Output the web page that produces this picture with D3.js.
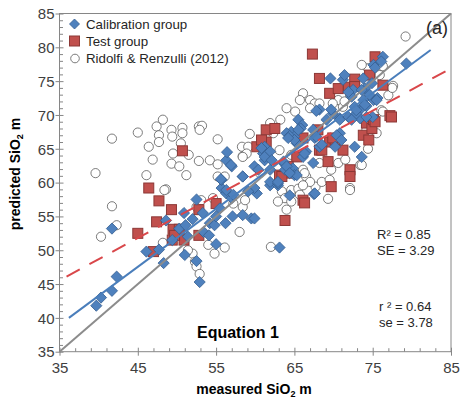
<!DOCTYPE html>
<html><head><meta charset="utf-8">
<script src="https://cdn.jsdelivr.net/npm/d3@7"></script>
<style>body{margin:0;background:#fff}svg{display:block;font-family:"Liberation Sans",Arial,sans-serif}</style>
</head><body><svg id="c" width="460" height="403"></svg>
<script>
const xTicks=[35,45,55,65,75,85];
const yTicks=[35,40,45,50,55,60,65,70,75,80,85];
const legendLabels=["Calibration group","Test group","Ridolfi & Renzulli (2012)"];
const statsCal=["R² = 0.85","SE = 3.29"];
const statsRid=["r ² = 0.64","se = 3.78"];

const calibration=[
[39.7,41.8],[40.3,43.0],[41.7,44.0],[42.3,46.1],[41.7,53.2],[46.1,49.8],[47.7,50.1],[48.3,48.1],[48.6,54.4],[49.4,51.5],[50.3,53.2],[51.0,49.3],[51.1,53.7],[51.4,52.0],[50.9,55.5],[52.0,54.6],[52.5,48.4],[52.9,45.3],[53.3,55.5],[53.4,52.7],[54.1,52.2],[54.2,54.0],[54.8,53.7],[55.0,50.9],[56.2,54.0],[55.5,56.2],[57.1,55.0],[52.5,57.5],
[55.0,55.0],[58.4,55.2],[59.5,54.7],[55.7,59.2],[56.3,58.4],[57.0,57.7],
[63.1,50.4],[67.5,58.3],[64.4,58.1],[59.9,54.7],[61.9,59.6],[62.9,59.6],[60.2,58.4],
[76.3,78.6],[76.1,77.9],[79.3,77.6],[69.6,75.4],[71.2,75.2],[71.4,75.9],[73.8,75.4],[74.9,74.7],[74.0,73.9],[75.1,77.4],[72.5,73.7],[75.1,72.2],[75.6,72.5],[73.8,72.2],[73.4,70.8],[72.3,72.7],[72.7,71.2],[74.2,71.3],[75.0,69.7],[68.2,70.8],[67.8,70.6],[69.1,69.3],[69.9,70.2],[70.8,69.5],[71.9,69.7],[72.9,70.0],[73.4,69.5],[74.2,69.7],[65.5,69.3],[66.0,68.5],[64.6,67.5],[65.8,68.0],[64.0,67.3],[65.0,66.8],[67.4,67.8],[67.6,66.6],[65.3,65.8],[68.2,65.3],[66.5,64.6],[66.1,63.8],[61.2,65.3],[61.0,64.3],[61.9,64.6],[61.2,63.3],[61.9,61.9],[59.9,62.4],[63.6,62.9],[63.8,61.9],[64.8,62.1],[65.0,61.1],[61.9,60.1],[62.9,59.9],[59.9,59.2],[59.1,58.7],[58.4,60.9],[57.0,62.4],[56.3,63.3],[57.2,58.2],[67.6,58.4],[70.2,65.3],[70.8,67.3],[72.7,65.3],[73.6,63.8],[72.9,70.2],
[75.5,72.2],[73.6,73.7],[74.6,73.0],[74.0,71.5],[72.9,70.7],[75.3,77.0],
[71.9,73.4],[69.7,70.8],[64.4,66.9],[65.5,67.8],[65.0,66.3],[64.2,66.6],[60.8,65.1],[61.2,63.8],[62.1,63.3],[60.4,61.9],[63.6,63.1],[66.3,64.3],[67.8,66.8],[68.5,65.6],[70.4,67.0],[70.8,69.3],[72.3,69.3],[71.0,66.3],[67.4,62.9],[64.0,62.4],[65.3,61.1],[64.4,61.4],[62.9,60.1],
[55.7,60.4],[58.4,60.9],[56.4,64.5],[56.9,62.6],[55.6,60.5],[56.3,58.9]
];

const test=[
[45.0,52.5],[47.4,54.2],[47.7,57.3],[49.3,56.0],[47.0,49.8],[49.4,51.5],[49.5,53.1],[50.3,53.1],[50.9,51.5],[52.8,56.0],[52.8,52.2],[55.0,56.9],[46.4,59.2],[50.7,64.7],[49.7,52.2],
[67.3,79.0],[68.2,75.4],[69.5,73.2],[70.6,73.9],[71.9,74.1],[72.7,75.3],[74.6,75.9],[75.3,78.6],[76.3,74.4],[77.2,69.9],[77.4,69.7],[61.4,67.8],[62.5,68.0],[60.2,65.3],[61.4,66.0],[69.5,66.0],[70.2,66.3],[71.2,64.8],[73.8,67.0],[74.5,66.3],[74.2,68.8],[74.9,68.0],[75.1,69.3],[68.2,64.8],[72.1,61.9],[72.1,60.9],[69.3,63.1],[65.3,63.8],[64.2,62.4],[64.4,61.4],[63.1,61.1],[69.7,59.4],[66.1,57.4],[63.8,54.4],[66.3,57.0],
[60.8,66.3],[66.1,66.6],[68.0,67.8],[69.9,66.6],[68.5,64.8],[63.4,60.9],[75.3,69.0],[72.7,74.2]
];

const ridolfi=[
[39.6,61.4],[41.7,66.5],[45.0,67.4],[46.4,65.3],[46.9,63.4],[47.4,68.3],[47.7,67.0],[48.2,69.3],[47.7,66.0],[49.3,67.8],[49.4,66.8],[50.7,68.1],[50.7,67.3],[50.5,65.8],[49.5,64.3],[49.3,62.8],[50.3,62.4],[51.2,61.1],[52.8,68.3],[53.2,68.4],[52.8,63.2],[54.2,63.3],[55.2,66.4],[46.1,61.1],[48.6,59.0],[55.2,62.7],[51.5,64.1],[52.9,67.8],
[59.3,67.2],[58.3,65.3],[58.4,63.9],[55.2,60.9],[56.1,60.9],
[40.3,52.0],[42.3,53.7],[41.7,56.5],[48.2,51.1],[52.0,49.5],[52.3,48.3],[52.5,47.6],[52.9,46.5],[54.0,50.8],[54.8,49.5],[56.1,50.4],[52.5,56.4],[58.0,52.7],[57.2,56.9],
[48.4,58.9],[53.1,57.4],[54.6,57.7],[58.4,56.4],[51.4,50.0],
[62.0,50.5],[64.0,56.0],[69.3,57.6],[72.1,59.2],[63.4,58.7],[64.6,58.9],[63.8,57.7],[62.9,57.2],[65.5,59.1],[67.7,59.4],[64.6,57.2],
[79.2,81.6],[76.3,77.2],[74.4,76.9],[66.1,73.2],[77.6,74.3],[64.0,71.0],[67.0,72.2],[67.6,71.7],[68.2,71.7],[70.6,72.2],[69.9,71.7],[71.2,71.2],[76.1,70.7],[61.9,68.8],[62.3,67.3],[59.1,65.3],[58.9,64.3],[58.4,63.8],[60.6,61.4],[66.1,61.9],[66.5,60.9],[67.0,60.1],[68.5,60.1],[70.6,62.9],[73.4,62.6],[74.2,67.8],[75.5,67.3],[68.2,62.9],[72.1,58.9],[66.1,59.6],
[73.6,77.4],[75.9,75.9],[77.0,72.9],[76.3,70.5],[74.4,65.0],[73.6,62.6],
[65.1,70.5],[71.4,72.0],[64.6,64.1],[63.1,64.8],[61.6,63.8],[66.3,61.4],[69.7,61.9],
[65.7,72.2],[67.0,71.0],[63.2,69.3],[72.1,73.0],[77.5,74.0],[71.5,63.4],[69.5,60.4],[65.7,58.2],[58.7,57.4]
];

const oneToOne=[[35,35],[85,85]];
const calibFit=[[36.2,40.0],[82.4,79.6]];
const ridolfiFit=[[35.9,46.1],[85,76.9]];

const svg=d3.select("#c");
const x=d3.scaleLinear().domain([35,85]).range([59.5,451]);
const y=d3.scaleLinear().domain([35,85]).range([351.7,13.5]);
const axisCol="#868686", textCol="#404040";

// minor ticks
const xMinor=d3.range(35,85,2).filter(v=>!xTicks.includes(v));
const yMinor=d3.range(35,85,1).filter(v=>!yTicks.includes(v));
svg.append("g").attr("transform",`translate(0,${y(35)})`)
  .call(d3.axisBottom(x).tickValues(xMinor).tickSize(-3.5).tickFormat(""))
  .call(g=>{g.select(".domain").remove();g.selectAll("line").attr("stroke",axisCol);});
svg.append("g").attr("transform",`translate(${x(35)},0)`)
  .call(d3.axisLeft(y).tickValues(yMinor).tickSize(-3.5).tickFormat(""))
  .call(g=>{g.select(".domain").remove();g.selectAll("line").attr("stroke",axisCol);});

// major
const gx=svg.append("g").attr("transform",`translate(0,${y(35)})`)
  .call(d3.axisBottom(x).tickValues(xTicks).tickSize(4).tickFormat(d3.format("d")));
gx.select(".domain").remove();
gx.selectAll(".tick line").attr("y1",-4).attr("stroke",axisCol);
gx.selectAll(".tick text").attr("y",21.5).attr("dy",0).attr("font-size",15).attr("fill",textCol).attr("font-family","Liberation Sans, Arial, sans-serif");

const gy=svg.append("g").attr("transform",`translate(${x(35)},0)`)
  .call(d3.axisLeft(y).tickValues(yTicks).tickSize(4).tickFormat(d3.format("d")));
gy.select(".domain").remove();
gy.selectAll(".tick line").attr("x1",4).attr("stroke",axisCol);
gy.selectAll(".tick text").attr("x",-5).attr("dy","0.35em").attr("font-size",15).attr("fill",textCol).attr("font-family","Liberation Sans, Arial, sans-serif");

// frame
svg.append("rect").attr("x",x(35)).attr("y",y(85)).attr("width",x(85)-x(35)).attr("height",y(35)-y(85))
  .attr("fill","none").attr("stroke",axisCol).attr("stroke-width",1);

// points
const diamond="M0,-5.6L5.6,0L0,5.6L-5.6,0Z";
svg.append("g").selectAll("circle").data(ridolfi).join("circle")
  .attr("cx",d=>x(d[0])).attr("cy",d=>y(d[1])).attr("r",4.6)
  .attr("fill","#fff").attr("stroke","#5a5a5a").attr("stroke-width",0.8);
svg.append("g").selectAll("rect").data(test).join("rect")
  .attr("x",d=>x(d[0])-5).attr("y",d=>y(d[1])-5).attr("width",10).attr("height",10)
  .attr("fill","#C0504D").attr("stroke","#8C3836").attr("stroke-width",1);
svg.append("g").selectAll("path").data(calibration).join("path")
  .attr("d",diamond).attr("transform",d=>`translate(${x(d[0])},${y(d[1])})`)
  .attr("fill","#4F81BD").attr("stroke","#355E91").attr("stroke-width",0.8);

// lines
const line=d3.line().x(d=>x(d[0])).y(d=>y(d[1]));
svg.append("path").attr("d",line(oneToOne)).attr("stroke","#8C8C8C").attr("stroke-width",2).attr("fill","none");
svg.append("path").attr("d",line(calibFit)).attr("stroke","#4A7EBB").attr("stroke-width",2).attr("fill","none");
svg.append("path").attr("d",line(ridolfiFit)).attr("stroke","#D9474A").attr("stroke-width",2).attr("fill","none").attr("stroke-dasharray","15,11");

// legend
const lg=svg.append("g");
lg.append("path").attr("d","M0,-5L5,0L0,5L-5,0Z").attr("transform","translate(74.5,24)").attr("fill","#4F81BD").attr("stroke","#355E91").attr("stroke-width",0.8);
lg.append("rect").attr("x",69.5).attr("y",36).attr("width",10).attr("height",10).attr("fill","#C0504D").attr("stroke","#8C3836");
lg.append("circle").attr("cx",75).attr("cy",58.5).attr("r",4.3).attr("fill","#fff").attr("stroke","#5a5a5a").attr("stroke-width",0.8);
lg.selectAll("text").data(legendLabels).join("text")
  .attr("x",86).attr("y",(d,i)=>29+i*17).attr("font-size",13.3).attr("fill","#262626").text(d=>d);

// annotations
svg.append("text").attr("x",448).attr("y",33.5).attr("text-anchor","end").attr("font-size",18).attr("fill","#262626").text("(a)");
svg.append("text").attr("x",197).attr("y",338).attr("font-size",16).attr("font-weight","bold").attr("fill","#000").text("Equation 1");
svg.selectAll(".sc").data(statsCal).join("text").attr("class","sc")
  .attr("x",377).attr("y",(d,i)=>239+i*16).attr("font-size",13).attr("fill","#262626").text(d=>d);
svg.selectAll(".sr").data(statsRid).join("text").attr("class","sr")
  .attr("x",379).attr("y",(d,i)=>311+i*16).attr("font-size",13).attr("fill","#262626").text(d=>d);

// axis titles
const xt=svg.append("text").attr("x",254).attr("y",394).attr("text-anchor","middle").attr("font-size",14).attr("font-weight","bold").attr("fill","#000");
xt.append("tspan").text("measured SiO");
xt.append("tspan").attr("font-size",9).attr("dy",3).text("2");
xt.append("tspan").attr("dy",-3).text(" m");
const yt=svg.append("text").attr("transform","translate(20,174) rotate(-90)").attr("text-anchor","middle").attr("font-size",14).attr("font-weight","bold").attr("fill","#000");
yt.append("tspan").text("predicted SiO");
yt.append("tspan").attr("font-size",9).attr("dy",3).text("2");
yt.append("tspan").attr("dy",-3).text(" m");
</script></body></html>
